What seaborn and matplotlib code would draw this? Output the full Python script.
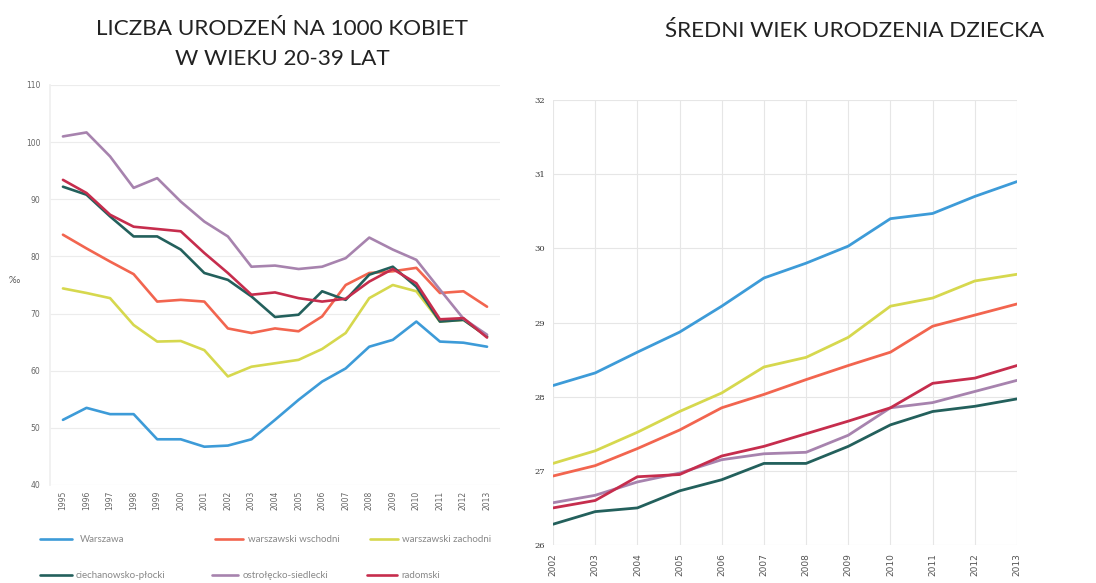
import numpy as np
import pandas as pd
import matplotlib
matplotlib.use("Agg")
import matplotlib.pyplot as plt
import seaborn as sns

sns.set_theme(style="white")
plt.rcParams["font.family"] = ["Lato", "DejaVu Sans"]

# --- data -----------------------------------------------------------------
regions = ["Warszawa", "warszawski wschodni", "warszawski zachodni",
           "ciechanowsko-płocki", "ostrołęcko-siedlecki", "radomski"]
colors = ["#3d9bd8", "#f2654f", "#d6d84e", "#23605c", "#a783ae", "#c62d4d"]

years_births = list(range(1995, 2014))
births_warszawa = [51.4, 53.5, 52.4, 52.4, 48.0, 48.0, 46.7, 46.9, 48.0, 51.4,
                   54.9, 58.1, 60.4, 64.2, 65.4, 68.6, 65.1, 64.9, 64.2]
births_wschodni = [83.8, 81.4, 79.1, 76.9, 72.1, 72.4, 72.1, 67.4, 66.6, 67.4,
                   66.9, 69.5, 75.0, 77.1, 77.4, 78.0, 73.6, 73.9, 71.2]
births_zachodni = [74.4, 73.6, 72.7, 68.0, 65.1, 65.2, 63.6, 59.0, 60.7, 61.3,
                   61.9, 63.8, 66.6, 72.7, 75.0, 73.9, 68.6, 68.9, 66.0]
births_ciechanowsko = [92.2, 90.8, 87.0, 83.5, 83.5, 81.2, 77.1, 75.9, 73.0, 69.4,
                       69.8, 73.9, 72.4, 76.8, 78.2, 74.7, 68.6, 68.9, 66.0]
births_ostroleckie = [101.0, 101.7, 97.5, 92.0, 93.7, 89.6, 86.1, 83.5, 78.2, 78.4,
                      77.8, 78.2, 79.7, 83.3, 81.2, 79.4, 74.2, 69.1, 66.3]
births_radomski = [93.4, 91.1, 87.3, 85.2, 84.8, 84.4, 80.6, 77.1, 73.3, 73.7,
                   72.7, 72.1, 72.6, 75.6, 77.8, 75.3, 69.0, 69.2, 65.8]

years_age = list(range(2002, 2014))
age_warszawa = [28.15, 28.32, 28.60, 28.87, 29.22, 29.60, 29.80, 30.03, 30.40, 30.47, 30.70, 30.90]
age_wschodni = [26.93, 27.07, 27.30, 27.55, 27.85, 28.03, 28.23, 28.42, 28.60, 28.95, 29.10, 29.25]
age_zachodni = [27.10, 27.27, 27.52, 27.80, 28.05, 28.40, 28.53, 28.80, 29.22, 29.33, 29.56, 29.65]
age_ciechanowsko = [26.28, 26.45, 26.50, 26.73, 26.88, 27.10, 27.10, 27.33, 27.62, 27.80, 27.87, 27.97]
age_ostroleckie = [26.57, 26.67, 26.85, 26.97, 27.15, 27.23, 27.25, 27.48, 27.85, 27.92, 28.07, 28.22]
age_radomski = [26.50, 26.60, 26.92, 26.95, 27.20, 27.33, 27.50, 27.67, 27.85, 28.18, 28.25, 28.42]

births = [births_warszawa, births_wschodni, births_zachodni,
          births_ciechanowsko, births_ostroleckie, births_radomski]
ages = [age_warszawa, age_wschodni, age_zachodni,
        age_ciechanowsko, age_ostroleckie, age_radomski]


def long_frame(years, series):
    rows = []
    for name, vals in zip(regions, series):
        for y, v in zip(years, vals):
            rows.append({"rok": y, "region": name, "wartosc": v})
    return pd.DataFrame(rows)


df_births = long_frame(years_births, births)
df_age = long_frame(years_age, ages)
palette = dict(zip(regions, colors))

W, H = 1096, 583
fig = plt.figure(figsize=(W / 100, H / 100), dpi=100)
fig.patch.set_facecolor("white")


def fx(px):
    return px / W


def fy(py):
    return 1 - py / H


# --- left panel: births per 1000 women ----------------------------------
ax1 = fig.add_axes([fx(50), fy(485), fx(450), 400 / H])
sns.lineplot(data=df_births, x="rok", y="wartosc", hue="region", palette=palette,
             hue_order=regions, linewidth=1.9, ax=ax1, legend=False)
ax1.set_xlim(1994.45, 2013.55)
ax1.set_ylim(40, 110)
ax1.set_yticks(range(40, 111, 10))
ax1.set_yticklabels([str(v) for v in range(40, 111, 10)], fontsize=5.5,
                    color="#666666", family="DejaVu Sans")
ax1.set_xticks(years_births)
ax1.set_xticklabels([str(y) for y in years_births], rotation=90, fontsize=5.5,
                    color="#666666", family="DejaVu Sans")
ax1.tick_params(axis="y", length=0, pad=7)
ax1.tick_params(axis="x", length=0, pad=4)
ax1.yaxis.grid(True, color="#ececec", linewidth=0.8)
ax1.xaxis.grid(False)
for s in ax1.spines.values():
    s.set_visible(False)
ax1.spines["left"].set_visible(True)
ax1.spines["left"].set_color("#f0f0f0")
ax1.set_xlabel("")
ax1.set_ylabel("‰", rotation=0, fontsize=7, color="#555555", labelpad=8)

fig.text(fx(282), fy(35), "LICZBA URODZEŃ NA 1000 KOBIET", ha="center",
         va="baseline", fontsize=16.2, color="#222222")
fig.text(fx(282), fy(65), "W WIEKU 20-39 LAT", ha="center",
         va="baseline", fontsize=16.2, color="#222222")

# legend below the left panel, two rows of three
legend_items = [(40, 72, 80, 539), (215, 243, 248, 539), (370, 398, 402, 539),
                (40, 72, 76, 575), (212, 238, 243, 575), (367, 397, 401, 575)]
for name, col, (x0, x1, xt, yy) in zip(regions, colors, legend_items):
    fig.add_artist(plt.Line2D([fx(x0), fx(x1)], [fy(yy), fy(yy)], color=col,
                              linewidth=1.9, transform=fig.transFigure))
    fig.text(fx(xt), fy(yy), name, fontsize=7, color="#888888", va="center")

# --- right panel: mean age at childbirth ---------------------------------
ax2 = fig.add_axes([fx(553), fy(545), 464 / W, 445 / H])
sns.lineplot(data=df_age, x="rok", y="wartosc", hue="region", palette=palette,
             hue_order=regions, linewidth=2.0, ax=ax2, legend=False)
ax2.set_xlim(2002, 2013)
ax2.set_ylim(26, 32)
ax2.set_yticks(range(26, 33))
ax2.set_xticks(years_age)
ax2.set_xticklabels([str(y) for y in years_age], rotation=90, fontsize=6.5,
                    color="#555555", family="DejaVu Sans")
ax2.set_yticklabels([str(v) for v in range(26, 33)], fontsize=6,
                    color="#333333", family="DejaVu Serif")
ax2.tick_params(axis="both", length=0, pad=6)
ax2.grid(True, color="#e6e6e6", linewidth=0.8)
for s in ax2.spines.values():
    s.set_visible(False)
ax2.set_xlabel("")
ax2.set_ylabel("")

fig.text(fx(855), fy(37), "ŚREDNI WIEK URODZENIA DZIECKA", ha="center",
         va="baseline", fontsize=16.2, color="#222222")

fig.savefig("out.png", dpi=100, facecolor="white")
